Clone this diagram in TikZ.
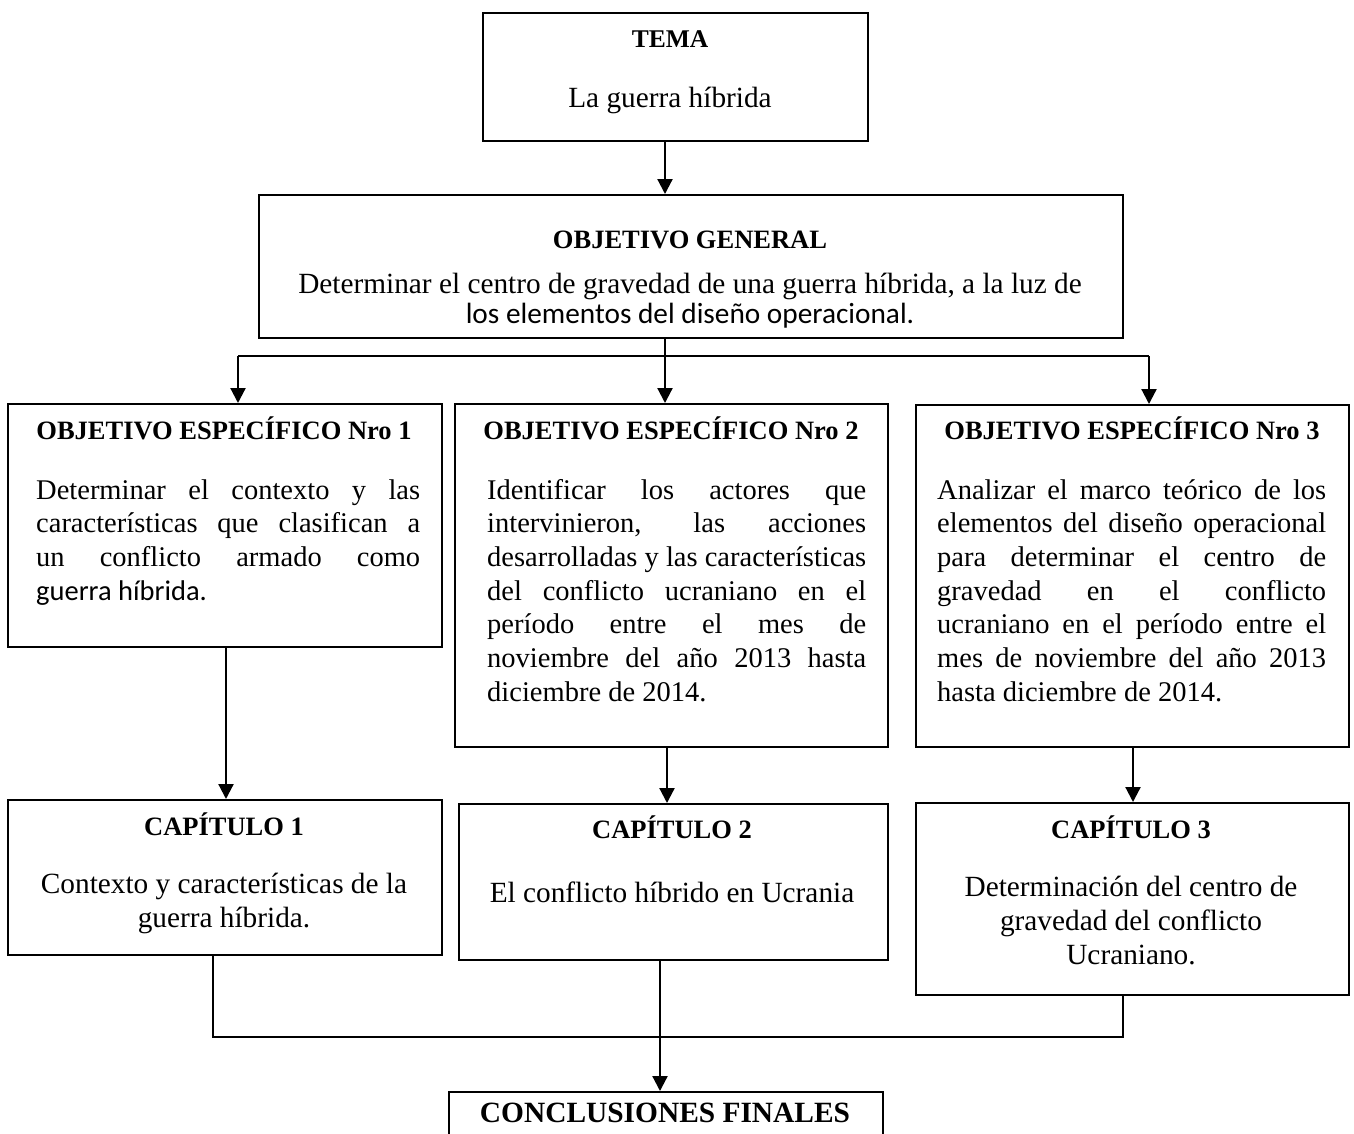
\documentclass[tikz,border=0pt]{standalone}
\usepackage{fontspec}
\setmainfont{Liberation Serif}
\newfontfamily\calib{Carlito}
\usetikzlibrary{arrows.meta}
\newcommand\jline[2]{\makebox[#1][s]{#2}}
\begin{document}
\begin{tikzpicture}[x=1pt,y=-1pt,
  box/.style={draw, line width=1.8pt, rectangle, inner sep=0pt, anchor=north west},
  hd/.style={anchor=base, inner sep=0pt, font=\fontsize{26.5}{30}\selectfont\bfseries},
  txt/.style={anchor=base, inner sep=0pt, font=\fontsize{29.3}{34}\selectfont},
  oetxt/.style={anchor=base west, inner sep=0pt, font=\fontsize{28.5}{33.7}\selectfont},
  arr/.style={line width=2.2pt, -{Triangle[length=15pt,width=15pt]}},
  ln/.style={line width=1.8pt},
  thinln/.style={line width=1.4pt}]
\useasboundingbox (0,0) rectangle (1354,1133);
\fill[white] (0,0) rectangle (1354,1133);

% boxes
\node[box, minimum width=385pt, minimum height=128pt] (tema) at (482,12) {};
\node[box, minimum width=864pt, minimum height=143pt] (og) at (258,194) {};
\node[box, minimum width=434pt, minimum height=243pt] (oe1) at (7,403) {};
\node[box, minimum width=433pt, minimum height=343pt] (oe2) at (454,403) {};
\node[box, minimum width=433pt, minimum height=342pt] (oe3) at (915,404) {};
\node[box, minimum width=434pt, minimum height=155pt] (cap1) at (7,799) {};
\node[box, minimum width=429pt, minimum height=156pt] (cap2) at (458,803) {};
\node[box, minimum width=433pt, minimum height=192pt] (cap3) at (915,802) {};
\begin{scope}
\clip (0,0) rectangle (1354,1133);
\node[box, minimum width=434pt, minimum height=80pt] (conc) at (448,1091) {};
\end{scope}

% texts
\node[hd, font=\fontsize{25.5}{30}\selectfont\bfseries] (temah) at (670,47) {TEMA};
\node[txt] (temat) at (670,107) {La guerra híbrida};

\node[hd] (ogh) at (690,248) {OBJETIVO GENERAL};
\node[txt, font=\fontsize{29.3}{30.5}\selectfont] (ogt) at (690,293) {\parbox[t]{820pt}{\centering
  Determinar el centro de gravedad de una guerra híbrida, a la luz de\\
  {\calib los elementos del diseño operacional.}}};

\node[hd] (oe1h) at (224,439) {OBJETIVO ESPECÍFICO Nro 1};
\node[oetxt] (oe1t) at (36,499) {\parbox[t]{384pt}{%
  \jline{384pt}{Determinar el contexto y las}\\
  \jline{384pt}{características que clasifican a}\\
  \jline{384pt}{un conflicto armado como}\\
  {\calib guerra híbrida.}}};

\node[hd] (oe2h) at (671,439) {OBJETIVO ESPECÍFICO Nro 2};
\node[oetxt] (oe2t) at (487,499) {\parbox[t]{379pt}{%
  \jline{379pt}{Identificar los actores que}\\
  \jline{379pt}{intervinieron, las acciones}\\
  \jline{379pt}{desarrolladas y las características}\\
  \jline{379pt}{del conflicto ucraniano en el}\\
  \jline{379pt}{período entre el mes de}\\
  \jline{379pt}{noviembre del año 2013 hasta}\\
  diciembre de 2014.}};

\node[hd] (oe3h) at (1132,439) {OBJETIVO ESPECÍFICO Nro 3};
\node[oetxt] (oe3t) at (937,499) {\parbox[t]{389pt}{%
  \jline{389pt}{Analizar el marco teórico de los}\\
  \jline{389pt}{elementos del diseño operacional}\\
  \jline{389pt}{para determinar el centro de}\\
  \jline{389pt}{gravedad en el conflicto}\\
  \jline{389pt}{ucraniano en el período entre el}\\
  \jline{389pt}{mes de noviembre del año 2013}\\
  hasta diciembre de 2014.}};

\node[hd] (cap1h) at (224,835) {CAPÍTULO 1};
\node[txt] (cap1t) at (224,893) {\parbox[t]{420pt}{\centering
  Contexto y características de la\\ guerra híbrida.}};

\node[hd] (cap2h) at (672,838) {CAPÍTULO 2};
\node[txt] (cap2t) at (672,902) {El conflicto híbrido en Ucrania};

\node[hd] (cap3h) at (1131,838) {CAPÍTULO 3};
\node[txt] (cap3t) at (1131,896) {\parbox[t]{420pt}{\centering
  Determinación del centro de\\ gravedad del conflicto\\ Ucraniano.}};

\node[hd, font=\fontsize{29.4}{32}\selectfont\bfseries] (conch) at (665,1122) {CONCLUSIONES FINALES};

% connector coordinates
\coordinate (sp) at (665,356);
\coordinate (jl) at (238,356);
\coordinate (jr) at (1149,356);
\coordinate (c1x) at (226,0);
\coordinate (c2x) at (667,0);
\coordinate (c3x) at (1133,0);
\coordinate (bl) at (213,1037);
\coordinate (bm) at (660,1037);
\coordinate (br) at (1123,1037);

% connectors
\draw[arr] (tema.south -| sp) -- (og.north -| sp);
\draw[ln] (og.south -| sp) -- (sp);
\draw[ln] (jl) -- (jr);
\draw[arr] (jl) -- (jl |- oe1.north);
\draw[arr] (sp) -- (sp |- oe2.north);
\draw[arr] (jr) -- (jr |- oe3.north);
\draw[arr] (oe1.south -| c1x) -- (cap1.north -| c1x);
\draw[arr] (oe2.south -| c2x) -- (cap2.north -| c2x);
\draw[arr] (oe3.south -| c3x) -- (cap3.north -| c3x);
\draw[thinln] (cap1.south -| bl) -- (bl) -- (br) -- (cap3.south -| br);
\draw[arr] (cap2.south -| bm) -- (conc.north -| bm);
\end{tikzpicture}
\end{document}
